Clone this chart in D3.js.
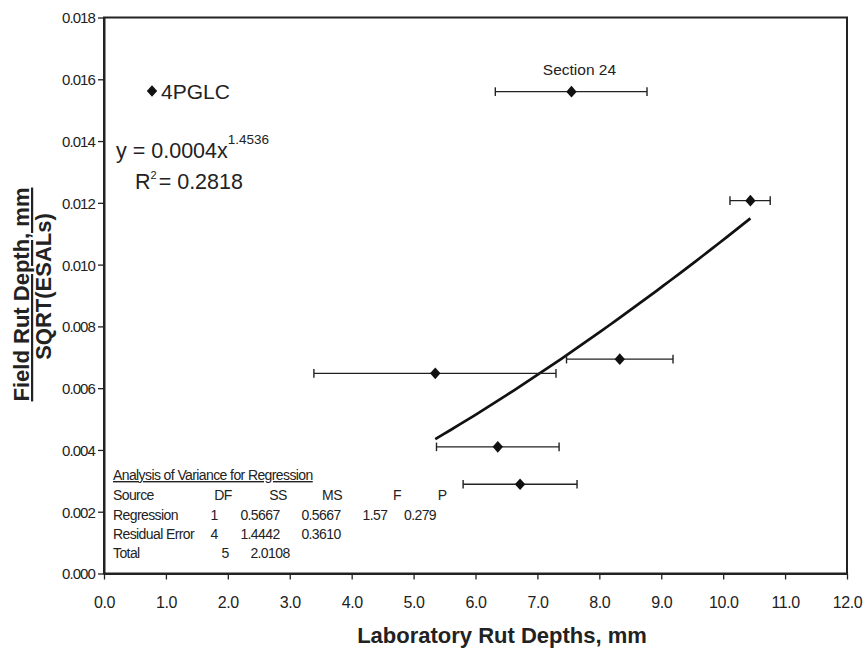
<!DOCTYPE html>
<meta charset="utf-8">
<title>Field vs Laboratory Rut Depths</title>
<style>
  body { margin: 0; background: #fff; }
  text { font-family: "Liberation Sans", Arial, sans-serif; fill: #222; }
</style>
<body>
<div id="chart"></div>
<script src="https://d3js.org/d3.v7.min.js"></script>
<script>

// data
var labRut   = [7.55, 10.44, 5.35, 8.33, 6.36, 6.72];          // x, mm
var fieldRut = [0.01560, 0.01207, 0.00648, 0.00694, 0.00410, 0.00289];
var errLow   = [6.32, 10.11, 3.39, 7.47, 5.37, 5.80];
var errHigh  = [8.77, 10.76, 7.30, 9.19, 7.35, 7.64];
var pointLabels = ["Section 24", "", "", "", "", ""];

// power trendline y = a * x^b
var trendA = 0.00038, trendB = 1.4536;

var xTicks = [0, 1, 2, 3, 4, 5, 6, 7, 8, 9, 10, 11, 12];
var yTicks = [0, 0.002, 0.004, 0.006, 0.008, 0.010, 0.012, 0.014, 0.016, 0.018];

var anovaTitle = "Analysis of Variance for Regression";
var anovaRows = [
  ["Source", "DF", "SS", "MS", "F", "P"],
  ["Regression", "1", "0.5667", "0.5667", "1.57", "0.279"],
  ["Residual Error", "4", "1.4442", "0.3610"],
  ["Total", "5", "2.0108"]
];
// column centres for each row (the table is not quite aligned)
var anovaColX = [
  [113, 223, 278, 332, 397, 442],
  [113, 214, 260, 321, 375, 420],
  [113, 214, 260, 321],
  [113, 225, 270]
];

var W = 867, H = 649;
var margin = {top: 17.5, left: 104};
var width = 847 - margin.left,
    height = 573.5 - margin.top;

var svg = d3.select("#chart").append("svg")
    .attr("width", W)
    .attr("height", H);

var g = svg.append("g")
    .attr("transform", "translate(" + margin.left + "," + margin.top + ")");

var x = d3.scaleLinear().domain([0, 12]).range([0, width]);
var y = d3.scaleLinear().domain([0, 0.018]).range([height, 0]);

// frame
g.append("rect")
    .attr("width", width).attr("height", height)
    .attr("fill", "none").attr("stroke", "#222").attr("stroke-width", 2);

// axes
var xAxis = g.append("g")
    .attr("transform", "translate(0," + height + ")")
    .call(d3.axisBottom(x).tickValues(xTicks).tickFormat(d3.format(".1f"))
      .tickSize(6).tickSizeOuter(0).tickPadding(17));
var yAxis = g.append("g")
    .call(d3.axisLeft(y).tickValues(yTicks).tickFormat(d3.format(".3f"))
      .tickSize(6).tickSizeOuter(0).tickPadding(3));

[xAxis, yAxis].forEach(function(a) {
  a.select(".domain").attr("stroke", "#222").attr("stroke-width", 2);
  a.selectAll(".tick line").attr("stroke", "#222").attr("stroke-width", 1.3);
  a.selectAll(".tick text").attr("fill", "#222")
    .style("font-family", '"Liberation Sans", Arial, sans-serif');
});
xAxis.selectAll(".tick text").style("font-size", "16px").style("letter-spacing", "-0.4px");
yAxis.selectAll(".tick text").style("font-size", "15px").style("letter-spacing", "-0.9px")
    .attr("dy", "0.36em");

// trendline over the range of the data
var xMin = d3.min(labRut), xMax = d3.max(labRut);
var trendX = d3.range(0, 41).map(function(i) { return xMin + (xMax - xMin) * i / 40; });
g.append("path")
    .datum(trendX)
    .attr("fill", "none")
    .attr("stroke", "#111")
    .attr("stroke-width", 2.7)
    .attr("d", d3.line()
      .x(function(d) { return x(d); })
      .y(function(d) { return y(trendA * Math.pow(d, trendB)); }));

// error bars
var pts = labRut.map(function(v, i) {
  return {x: v, y: fieldRut[i], lo: errLow[i], hi: errHigh[i], label: pointLabels[i]};
});

var bars = g.selectAll(".err").data(pts).enter().append("g").attr("class", "err")
    .attr("stroke", "#222").attr("stroke-width", 1.4);
bars.append("line")
    .attr("x1", function(d) { return x(d.lo); })
    .attr("x2", function(d) { return x(d.hi); })
    .attr("y1", function(d) { return y(d.y); })
    .attr("y2", function(d) { return y(d.y); });
bars.selectAll(".cap")
    .data(function(d) { return [{x: d.lo, y: d.y}, {x: d.hi, y: d.y}]; })
    .enter().append("line")
    .attr("x1", function(d) { return x(d.x); })
    .attr("x2", function(d) { return x(d.x); })
    .attr("y1", function(d) { return y(d.y) - 4.3; })
    .attr("y2", function(d) { return y(d.y) + 4.3; });

// diamond markers
var diamond = "M0,-5.8L5.2,0L0,5.8L-5.2,0Z";
g.selectAll(".pt").data(pts).enter().append("path")
    .attr("class", "pt")
    .attr("d", diamond)
    .attr("fill", "#111")
    .attr("transform", function(d) { return "translate(" + x(d.x) + "," + y(d.y) + ")"; });

g.selectAll(".ptlabel").data(pts.filter(function(d) { return d.label; }))
  .enter().append("text")
    .attr("x", function(d) { return x(d.x) + 8; })
    .attr("y", function(d) { return y(d.y) - 16.5; })
    .attr("text-anchor", "middle")
    .style("font-size", "15.5px")
    .text(function(d) { return d.label; });

// legend
svg.append("path").attr("d", diamond).attr("fill", "#111")
    .attr("transform", "translate(152,91)");
svg.append("text").attr("x", 161).attr("y", 98.5)
    .style("font-size", "21px").text("4PGLC");

// equation
var eq = svg.append("text").attr("x", 116).attr("y", 158).style("font-size", "21.5px");
eq.append("tspan").text("y = 0.0004x");
eq.append("tspan").attr("dy", -14).style("font-size", "13.5px").text("1.4536");

var r2 = svg.append("text").attr("x", 135).attr("y", 189).style("font-size", "21.5px");
r2.append("tspan").text("R");
r2.append("tspan").attr("dy", -10).style("font-size", "11px").text("2");
r2.append("tspan").attr("dy", 10).attr("dx", 2).text("= 0.2818");

// ANOVA table
svg.append("text").attr("x", 113).attr("y", 480)
    .style("font-size", "14px").style("letter-spacing", "-0.6px")
    .style("text-decoration", "underline")
    .text(anovaTitle);

var rowY = [500, 520, 539, 558];
anovaRows.forEach(function(row, r) {
  row.forEach(function(cell, c) {
    svg.append("text")
      .attr("x", anovaColX[r][c])
      .attr("y", rowY[r])
      .attr("text-anchor", c === 0 ? "start" : "middle")
      .style("font-size", "14px").style("letter-spacing", "-0.6px")
      .text(cell);
  });
});

// axis titles
svg.append("text")
    .attr("x", 502).attr("y", 643)
    .attr("text-anchor", "middle")
    .style("font-size", "22px").style("font-weight", "bold")
    .text("Laboratory Rut Depths, mm");

svg.append("text")
    .attr("transform", "translate(29,294.5) rotate(-90)")
    .attr("text-anchor", "middle")
    .style("font-size", "22px").style("font-weight", "bold")
    .style("text-decoration", "underline")
    .text("Field Rut Depth, mm");
svg.append("text")
    .attr("transform", "translate(51,286.5) rotate(-90)")
    .attr("text-anchor", "middle")
    .style("font-size", "22px").style("font-weight", "bold")
    .text("SQRT(ESALs)");

</script>
</body>
